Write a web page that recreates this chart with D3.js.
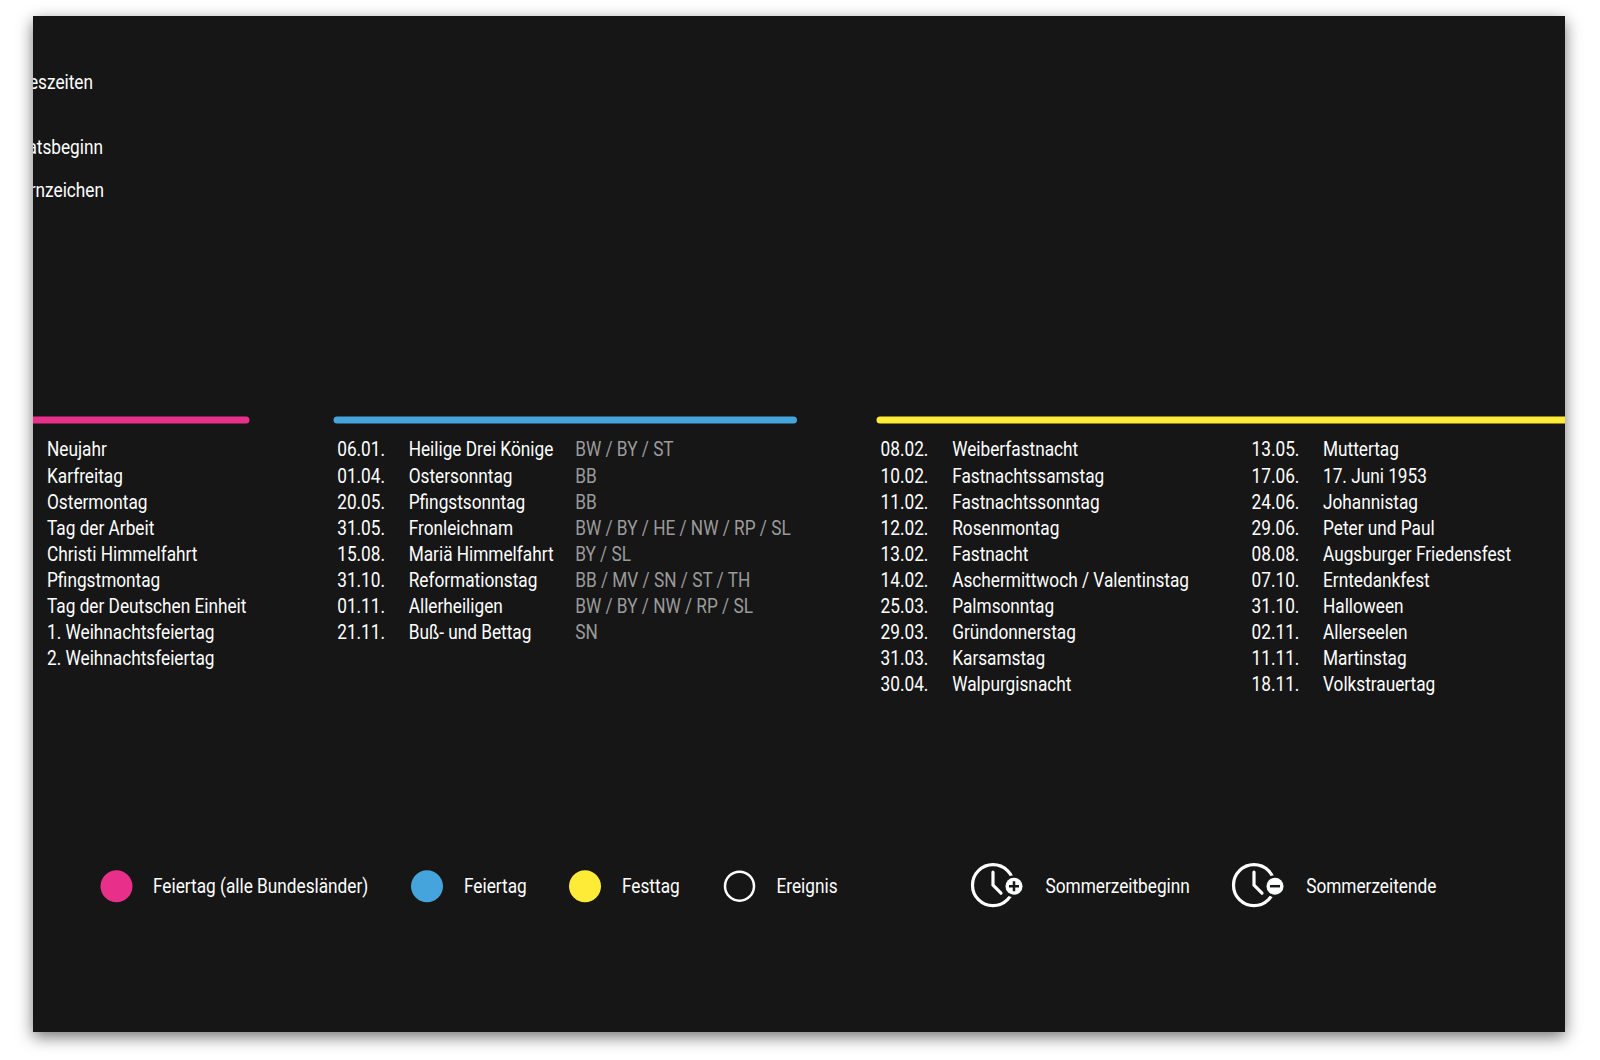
<!DOCTYPE html>
<html>
<head>
<meta charset="utf-8">
<script src="https://cdn.jsdelivr.net/npm/d3@7"></script>
<style>
    html, body { margin: 0; padding: 0; background: #fff; }
    svg { display: block; }
    text { font-family: Roboto, sans-serif; font-size: 20px; fill: #fff; }
</style>
</head>
<body>
<script>
// Values
var topLabels = ["Jahreszeiten", "Monatsbeginn", "Sternzeichen"];

var nationalNames = ["Neujahr", "Karfreitag", "Ostermontag", "Tag der Arbeit",
    "Christi Himmelfahrt", "Pfingstmontag", "Tag der Deutschen Einheit",
    "1. Weihnachtsfeiertag", "2. Weihnachtsfeiertag"];

var regionalDates = ["06.01.", "01.04.", "20.05.", "31.05.", "15.08.",
    "31.10.", "01.11.", "21.11."];
var regionalNames = ["Heilige Drei Könige", "Ostersonntag", "Pfingstsonntag",
    "Fronleichnam", "Mariä Himmelfahrt", "Reformationstag", "Allerheiligen",
    "Buß- und Bettag"];
var regionalStates = ["BW / BY / ST", "BB", "BB", "BW / BY / HE / NW / RP / SL",
    "BY / SL", "BB / MV / SN / ST / TH", "BW / BY / NW / RP / SL", "SN"];

var festDatesA = ["08.02.", "10.02.", "11.02.", "12.02.", "13.02.", "14.02.",
    "25.03.", "29.03.", "31.03.", "30.04."];
var festNamesA = ["Weiberfastnacht", "Fastnachtssamstag", "Fastnachtssonntag",
    "Rosenmontag", "Fastnacht", "Aschermittwoch / Valentinstag", "Palmsonntag",
    "Gründonnerstag", "Karsamstag", "Walpurgisnacht"];
var festDatesB = ["13.05.", "17.06.", "24.06.", "29.06.", "08.08.", "07.10.",
    "31.10.", "02.11.", "11.11.", "18.11."];
var festNamesB = ["Muttertag", "17. Juni 1953", "Johannistag", "Peter und Paul",
    "Augsburger Friedensfest", "Erntedankfest", "Halloween", "Allerseelen",
    "Martinstag", "Volkstrauertag"];

var legendDots = ["Feiertag (alle Bundesländer)", "Feiertag", "Festtag", "Ereignis"];
var legendClocks = ["Sommerzeitbeginn", "Sommerzeitende"];

var colors = {panel: "#161818", pink: "#e8308a", blue: "#46a4dc",
    yellow: "#fdeb37", white: "#ffffff", grey: "#9b9b9b"};

var width = 1600, height = 1060;
var panel = {left: 33, top: 16, right: 1565, bottom: 1032};

// Roboto is wider than the condensed face of the original
var squeeze = 0.862;

var svg = d3.select("body").append("svg")
    .attr("width", width)
    .attr("height", height);

var defs = svg.append("defs");
var shadow = defs.append("filter").attr("id", "shadow")
    .attr("x", "-5%").attr("y", "-5%").attr("width", "110%").attr("height", "110%");
shadow.append("feDropShadow")
    .attr("dx", 0).attr("dy", 5).attr("stdDeviation", 8)
    .attr("flood-color", "#000").attr("flood-opacity", 0.55);
defs.append("clipPath").attr("id", "panelClip").append("rect")
    .attr("x", panel.left).attr("y", panel.top)
    .attr("width", panel.right - panel.left)
    .attr("height", panel.bottom - panel.top);

svg.append("rect")
    .attr("x", panel.left).attr("y", panel.top)
    .attr("width", panel.right - panel.left)
    .attr("height", panel.bottom - panel.top)
    .attr("fill", colors.panel)
    .attr("filter", "url(#shadow)");

var g = svg.append("g").attr("clip-path", "url(#panelClip)");

// Row position in the lists
var rowScale = d3.scaleLinear().domain([0, 1]).range([449.4, 475.5]);

// Draws one column of a list, squeezed around its own left edge
function drawColumn(values, x, color) {
    g.append("g").selectAll("text")
        .data(values)
        .enter()
        .append("text")
        .attr("transform", function(d, i) {
            return "translate(" + x + "," + rowScale(i) + ") scale(" + squeeze + ",1)";
        })
        .attr("dy", ".35em")
        .style("fill", color)
        .text(function(d) { return d; });
}

// Header bars over the lists
function drawBar(x0, x1, color) {
    g.append("line")
        .attr("x1", x0).attr("x2", x1)
        .attr("y1", 420).attr("y2", 420)
        .attr("stroke", color)
        .attr("stroke-width", 7)
        .attr("stroke-linecap", "round");
}

drawBar(20, 246, colors.pink);
drawBar(337, 793.5, colors.blue);
drawBar(880, 1600, colors.yellow);

drawColumn(nationalNames, 47, colors.white);
drawColumn(regionalDates, 337.2, colors.white);
drawColumn(regionalNames, 408.7, colors.white);
drawColumn(regionalStates, 575.2, colors.grey);
drawColumn(festDatesA, 880.6, colors.white);
drawColumn(festNamesA, 952.2, colors.white);
drawColumn(festDatesB, 1251.6, colors.white);
drawColumn(festNamesB, 1323, colors.white);

// Labels left over from the cut-off part of the page, right aligned to their end
var topY = [82.4, 147.4, 190.4];
var topEnd = [93, 103, 104];
g.append("g").selectAll("text")
    .data(topLabels)
    .enter()
    .append("text")
    .attr("transform", function(d, i) {
        return "translate(" + topEnd[i] + "," + topY[i] + ") scale(" + squeeze + ",1)";
    })
    .attr("dy", ".35em")
    .attr("text-anchor", "end")
    .text(function(d) { return d; });

// Legend
var legendY = 886.2;
var dotX = [116.5, 427, 585, 739.5];
var dotTextX = [153, 464, 622, 776.5];
var dotFill = [colors.pink, colors.blue, colors.yellow, "none"];

legendDots.forEach(function(label, i) {
    g.append("circle")
        .attr("cx", dotX[i]).attr("cy", legendY)
        .attr("r", i == 3 ? 14.5 : 16)
        .attr("fill", dotFill[i])
        .attr("stroke", i == 3 ? colors.white : "none")
        .attr("stroke-width", 2.5);
    g.append("text")
        .attr("transform", "translate(" + dotTextX[i] + "," + legendY + ") scale(" + squeeze + ",1)")
        .attr("dy", ".35em")
        .text(label);
});

var clockX = [993, 1254];
var clockTextX = [1045.5, 1306.2];

legendClocks.forEach(function(label, i) {
    var c = g.append("g").attr("transform", "translate(" + clockX[i] + "," + (legendY - 1) + ")");
    c.append("circle")
        .attr("r", 20.5).attr("fill", "none")
        .attr("stroke", colors.white).attr("stroke-width", 3.2);
    c.append("path")
        .attr("d", "M0,-13V0L8,8")
        .attr("fill", "none")
        .attr("stroke", colors.white).attr("stroke-width", 3.2)
        .attr("stroke-linecap", "round");
    // Badge with plus or minus
    c.append("circle")
        .attr("cx", 21).attr("cy", 1).attr("r", 11)
        .attr("fill", colors.panel);
    c.append("circle")
        .attr("cx", 21).attr("cy", 1).attr("r", 8.5)
        .attr("fill", colors.white);
    c.append("path")
        .attr("d", i == 0 ? "M16,1H26M21,-4V6" : "M16,1H26")
        .attr("stroke", colors.panel).attr("stroke-width", 2.5);
    g.append("text")
        .attr("transform", "translate(" + clockTextX[i] + "," + legendY + ") scale(" + squeeze + ",1)")
        .attr("dy", ".35em")
        .text(label);
});
</script>
</body>
</html>
